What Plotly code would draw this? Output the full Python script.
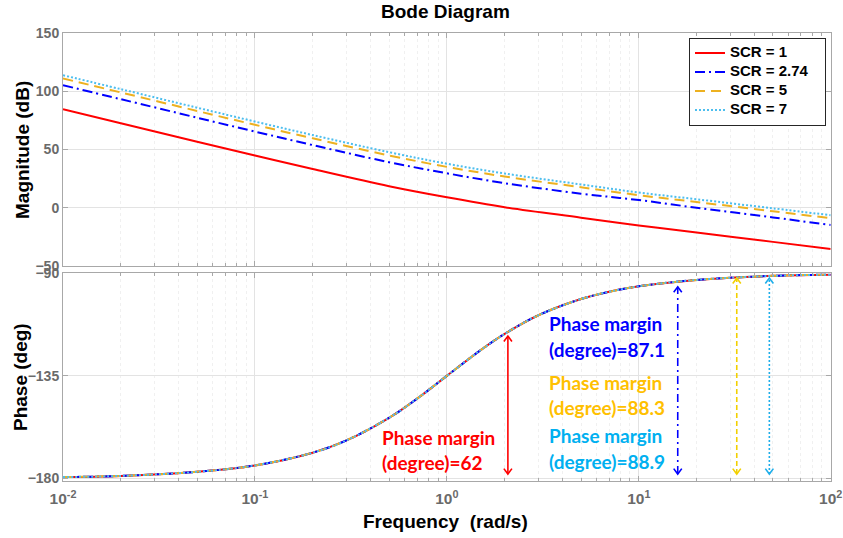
import numpy as np
import plotly.graph_objects as go

# ---------------- data ----------------
freq = [0.01, 0.02, 0.05, 0.1, 0.2, 0.5, 1, 2, 5, 10, 20, 50, 100]
mag_scr1 = [84.6, 72.6, 56.7, 44.8, 33.2, 18.5, 9.0, 0.5, -8.5, -15.2, -21.3, -29.3, -35.4]
mag_scr274 = [105.2, 93.2, 77.3, 65.4, 53.8, 39.1, 29.6, 21.1, 12.1, 6.6, 0.0, -8.3, -14.8]
mag_scr5 = [111.0, 99.0, 83.1, 71.2, 59.6, 44.9, 35.1, 26.8, 17.6, 10.8, 4.9, -3.0, -9.0]
mag_scr7 = [113.8, 101.8, 85.9, 74.0, 62.4, 47.7, 37.8, 29.4, 20.0, 13.1, 7.3, -0.5, -6.4]

phase_freq = [0.01, 0.02, 0.05, 0.1, 0.2, 0.3, 0.5, 0.7, 1, 1.5, 2, 3, 5, 7, 10, 20, 50, 100]
phase_deg = [-179.4, -178.9, -177.1, -174.3, -168.7, -163.3, -153.4, -145.0, -135.0,
             -123.7, -116.6, -108.4, -101.3, -98.1, -95.7, -92.9, -91.1, -90.6]

series_names = ["SCR = 1", "SCR = 2.74", "SCR = 5", "SCR = 7"]
series_mag = [mag_scr1, mag_scr274, mag_scr5, mag_scr7]

pm_freq = [2.08, 15.96, 32.4, 47.9]
pm_top = [-117.5, -95.9, -92.1, -92.1]
pm_bottom = [-178.1, -178.1, -178.1, -178.1]
pm_values = ["62", "87.1", "88.3", "88.9"]

x_tickvals = [0.01, 0.1, 1, 10, 100]
x_ticktext = ["10<sup>-2</sup>", "10<sup>-1</sup>", "10<sup>0</sup>", "10<sup>1</sup>", "10<sup>2</sup>"]
mag_ticks = [-50, 0, 50, 100, 150]
phase_ticks = [-180, -135, -90]

# ---------------- styles ----------------
line_colors = ["#FF0000", "#0000FF", "#EDB120", "#4DBEEE"]
line_dashes = ["solid", "10px,4px,2px,4px", "10px,6px", "2px,2px"]
arrow_colors = ["#FF0000", "#0000FF", "#F2D000", "#1EAEEA"]
arrow_dashes = ["solid", "8px,4px,2px,4px", "5px,3px", "2px,2px"]
text_colors = ["#FF0000", "#0000FF", "#FFC000", "#00B0F0"]
text_pos = [(380, 437, 462), (547, 323, 349), (547, 382, 407), (547, 436, 461)]
head_half_width = 0.021   # decades
head_length = 2.4         # degrees

W, H = 843, 538
def px(x):
    return x / W
def py(y):
    return 1 - y / H

fig = go.Figure()

for name, mag, c, d in zip(series_names, series_mag, line_colors, line_dashes):
    legend_name = '<span style="font-size:15px">' + name + "</span>" + "\u00a0" * 4
    fig.add_trace(go.Scatter(x=freq, y=mag, mode="lines", name=legend_name,
                             line=dict(color=c, dash=d, width=2, shape="spline"),
                             xaxis="x", yaxis="y"))
for name, c, d in zip(series_names, line_colors, line_dashes):
    fig.add_trace(go.Scatter(x=phase_freq, y=phase_deg, mode="lines", name=name,
                             showlegend=False,
                             line=dict(color=c, dash=d, width=2, shape="spline"),
                             xaxis="x2", yaxis="y2"))

# phase-margin double arrows: shaft + V heads
for f, t, b, c, d in zip(pm_freq, pm_top, pm_bottom, arrow_colors, arrow_dashes):
    fig.add_trace(go.Scatter(x=[f, f], y=[b, t], mode="lines", showlegend=False,
                             line=dict(color=c, dash=d, width=1.6),
                             xaxis="x2", yaxis="y2", hoverinfo="skip"))
    fl = f * 10 ** (-head_half_width)
    fr = f * 10 ** head_half_width
    fig.add_trace(go.Scatter(x=[fl, f, fr, None, fl, f, fr],
                             y=[t - head_length, t, t - head_length, None,
                                b + head_length, b, b + head_length],
                             mode="lines", showlegend=False,
                             line=dict(color=c, width=1.6),
                             xaxis="x2", yaxis="y2", hoverinfo="skip"))

annotations = []
# phase margin texts
for v, c, (xl, y1, y2) in zip(pm_values, text_colors, text_pos):
    for txt, yy in (("Phase margin", y1), ("(degree)=" + v, y2)):
        annotations.append(dict(x=px(xl), y=py(yy), xref="paper", yref="paper",
                                text=txt, showarrow=False, xanchor="left", yanchor="middle",
                                font=dict(family="Lato", size=19, color=c, weight="bold")))

label_font = dict(family="Liberation Sans, Arial", size=19, color="#000000", weight="bold")
annotations.append(dict(x=px(446), y=py(12), xref="paper", yref="paper", text="Bode Diagram",
                        showarrow=False, xanchor="center", yanchor="middle", font=label_font))
annotations.append(dict(x=px(22), y=py(150), xref="paper", yref="paper", text="Magnitude (dB)",
                        showarrow=False, textangle=-90, xanchor="center", yanchor="middle",
                        font=label_font))
annotations.append(dict(x=px(20), y=py(377), xref="paper", yref="paper", text="Phase (deg)",
                        showarrow=False, textangle=-90, xanchor="center", yanchor="middle",
                        font=label_font))
annotations.append(dict(x=px(446), y=py(521), xref="paper", yref="paper",
                        text="Frequency  (rad/s)", showarrow=False,
                        xanchor="center", yanchor="middle", font=label_font))

tick_font = dict(family="Liberation Sans, Arial", size=14, color="#6a6a6a", weight="bold")
xtick_font = dict(tick_font, size=15.5)
minor_vals = [m * 10.0 ** e for e in range(-2, 2) for m in range(2, 10)]

xcommon = dict(type="log", range=[-2, 2], domain=[px(63), px(830.7)],
               showline=True, linecolor="#a8a8a8", linewidth=1, mirror="allticks",
               ticks="inside", ticklen=5, tickcolor="#a8a8a8",
               tickmode="array", tickvals=x_tickvals, ticktext=x_ticktext,
               showgrid=True, gridcolor="#e3e3e3", gridwidth=1,
               minor=dict(tickmode="array", tickvals=minor_vals, ticks="inside", ticklen=3,
                          tickcolor="#a8a8a8", showgrid=True, gridcolor="#f0f0f0",
                          griddash="dot", gridwidth=1),
               zeroline=False, automargin=False, tickfont=xtick_font)
ycommon = dict(showline=True, linecolor="#a8a8a8", linewidth=1, mirror="allticks",
               ticks="inside", ticklen=5, tickcolor="#a8a8a8",
               showgrid=True, gridcolor="#e3e3e3", zeroline=False, automargin=False,
               tickfont=tick_font, tickmode="array")

fig.update_layout(
    width=W, height=H,
    margin=dict(l=0, r=0, t=0, b=0),
    paper_bgcolor="white", plot_bgcolor="white",
    xaxis=dict(xcommon, anchor="y", showticklabels=False),
    xaxis2=dict(xcommon, anchor="y2", matches="x", ticklabelstandoff=4),
    yaxis=dict(ycommon, domain=[py(266), py(33)], range=[-50, 150], tickvals=mag_ticks,
               anchor="x"),
    yaxis2=dict(ycommon, domain=[py(480.7), py(273.3)], range=[-181, -90],
                tickvals=phase_ticks, anchor="x2"),
    legend=dict(x=px(826), y=py(37.5), xanchor="right", yanchor="top",
                bgcolor="white", bordercolor="#262626", borderwidth=1,
                font=dict(family="Liberation Sans, Arial", size=10.5, color="#000000",
                          weight="bold"),
                itemwidth=30, tracegroupgap=0),
    annotations=annotations,
    showlegend=True,
)

fig.write_html("out.html")
